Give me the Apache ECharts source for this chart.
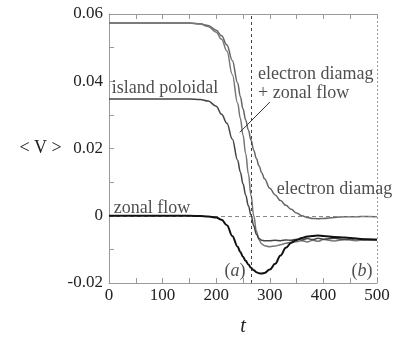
<!DOCTYPE html>
<html>
<head>
<meta charset="utf-8">
<script src="https://cdn.jsdelivr.net/npm/echarts@6/dist/echarts.min.js"></script>
<style>
  html, body { margin: 0; padding: 0; background: #fff; }
  #chart { width: 396px; height: 338px; }
</style>
</head>
<body>
<div id="chart"></div>
<script>
// time samples (t)
const tVals = [0, 100, 150, 170, 185, 200, 210, 220, 230, 240, 245, 250, 255, 260, 265, 270, 275, 280, 285, 290,
  300, 310, 320, 330, 340, 350, 360, 370, 380, 390, 400, 420, 440, 460, 480, 500];

// <V> for each flow component
const electronDiamag = [0.0573, 0.0573, 0.0573, 0.0571, 0.0566, 0.0552, 0.0535, 0.0508, 0.0462, 0.0395, 0.0355, 0.0318,
  0.0285, 0.0255, 0.0225, 0.0195, 0.0170, 0.0148, 0.0128, 0.0110, 0.0082, 0.0062, 0.0045, 0.0031, 0.0019, 0.0008,
  0.0000, -0.0005, -0.0008, -0.0009, -0.0008, -0.0005, -0.0003, -0.0003, -0.0002, -0.0003];
const diamagZonal = [0.0573, 0.0573, 0.0573, 0.0570, 0.0563, 0.0546, 0.0525, 0.0490, 0.0420, 0.0335, 0.0290, 0.0240,
  0.0185, 0.0125, 0.0060, 0.0000, -0.0045, -0.0072, -0.0084, -0.0089, -0.0092, -0.0090, -0.0086, -0.0082, -0.0079,
  -0.0077, -0.0074, -0.0078, -0.0073, -0.0076, -0.0071, -0.0075, -0.0071, -0.0074, -0.0072, -0.0073];
const islandPoloidal = [0.0347, 0.0347, 0.0347, 0.0346, 0.0341, 0.0326, 0.0302, 0.0275, 0.0228, 0.0165, 0.0130, 0.0095,
  0.0062, 0.0030, 0.0002, -0.0030, -0.0055, -0.0068, -0.0073, -0.0074, -0.0074, -0.0073, -0.0074, -0.0072, -0.0073,
  -0.0070, -0.0072, -0.0068, -0.0071, -0.0067, -0.0070, -0.0067, -0.0071, -0.0068, -0.0071, -0.0071];
const zonalFlow = [0, 0, 0, -0.0001, -0.0002, -0.0005, -0.0012, -0.0028, -0.0060, -0.0092, -0.0108, -0.0122,
  -0.0134, -0.0145, -0.0155, -0.0162, -0.0168, -0.0171, -0.0172, -0.0170, -0.0160, -0.0143, -0.0118, -0.0095, -0.0080,
  -0.0072, -0.0066, -0.0062, -0.0060, -0.0059, -0.0060, -0.0063, -0.0065, -0.0068, -0.0070, -0.0071];

// text labels placed in data coordinates [t, V]
const notes = [
  { text: 'island poloidal', at: [5, 0.038] },
  { text: 'electron diamag', at: [278, 0.0422] },
  { text: '+ zonal flow', at: [278, 0.0365] },
  { text: 'electron diamag', at: [313, 0.008] },
  { text: 'zonal flow', at: [9, 0.0023] }
];
const panelTags = [
  { text: '({i|a})', at: [235, -0.0165] },
  { text: '({i|b})', at: [472, -0.0165] }
];
const pointer = [[300, 0.0338], [244, 0.0248]];
const markerT = 265;

const font = 'Liberation Serif';
const pairs = vals => tVals.map((t, i) => [t, vals[i]]);

const chart = echarts.init(document.getElementById('chart'));

const axisX = pos => ({
  type: 'value', position: pos, min: 0, max: 500, interval: 50,
  axisLine: { show: true, onZero: false, lineStyle: { color: '#999', width: 1 } },
  axisTick: { show: true, inside: true, length: 5, lineStyle: { color: '#999' } },
  splitLine: { show: false },
  axisLabel: {
    show: pos === 'bottom', margin: 4, color: '#222', fontSize: 17, fontFamily: font,
    formatter: v => (v % 100 === 0 ? String(v) : '')
  },
  name: pos === 'bottom' ? 't' : '', nameLocation: 'middle', nameGap: 44,
  nameTextStyle: { fontSize: 20, fontStyle: 'italic', fontFamily: font, color: '#222', verticalAlign: 'middle' }
});

const lineSeries = (name, vals, color, width, z) => ({
  name, type: 'line', data: pairs(vals), showSymbol: false, symbol: 'none',
  smooth: 0.4, smoothMonotone: 'x', z,
  lineStyle: { color, width }
});

chart.setOption({
  animation: false,
  backgroundColor: '#fff',
  grid: { left: 109, right: 19, top: 14, bottom: 55, outerBoundsMode: 'none' },
  xAxis: [axisX('bottom'), axisX('top')],
  yAxis: {
    type: 'value', min: -0.02, max: 0.06, interval: 0.01,
    axisLine: { show: true, onZero: false, lineStyle: { color: '#999', width: 1 } },
    axisTick: { show: true, inside: true, length: 5, lineStyle: { color: '#999' } },
    splitLine: { show: false },
    axisLabel: {
      margin: 6, color: '#222', fontSize: 17, fontFamily: font,
      formatter: v => {
        const k = Math.round(v * 100);
        if (k % 2 !== 0) return '';
        return k === 0 ? '0' : (k / 100).toFixed(2);
      }
    },
    name: '< V >', nameLocation: 'middle', nameRotate: 0, nameGap: 47,
    nameTextStyle: { fontSize: 18, fontFamily: font, color: '#222', align: 'right', verticalAlign: 'middle' }
  },
  series: [
    Object.assign(lineSeries('electron diamag', electronDiamag, '#666', 1.5, 2), {
      markLine: {
        silent: true, symbol: 'none', label: { show: false },
        data: [
          { yAxis: 0, lineStyle: { color: '#888', type: [4, 3], width: 1 } },
          { xAxis: markerT, lineStyle: { color: '#444', type: [3, 3], width: 1 } },
          { xAxis: 500, lineStyle: { color: '#999', type: [2, 2], width: 1 } },
          [{ coord: pointer[0], lineStyle: { color: '#333', type: 'solid', width: 1 } }, { coord: pointer[1] }]
        ]
      }
    }),
    lineSeries('electron diamag + zonal flow', diamagZonal, '#777', 1.5, 3),
    lineSeries('island poloidal', islandPoloidal, '#444', 1.5, 4),
    lineSeries('zonal flow', zonalFlow, '#111', 2, 5),
    {
      type: 'scatter', symbolSize: 0, silent: true, z: 6,
      data: notes.map(n => ({ value: n.at, name: n.text })),
      label: {
        show: true, position: 'right', distance: 0, formatter: p => p.name,
        fontSize: 18, fontFamily: font, color: '#222'
      }
    },
    {
      type: 'scatter', symbolSize: 0, silent: true, z: 6,
      data: panelTags.map(n => ({ value: n.at, name: n.text })),
      label: {
        show: true, position: 'inside', formatter: p => p.name,
        fontSize: 18, fontFamily: font, color: '#222',
        rich: { i: { fontSize: 18, fontFamily: font, fontStyle: 'italic', color: '#222' } }
      }
    }
  ]
});
</script>
</body>
</html>
